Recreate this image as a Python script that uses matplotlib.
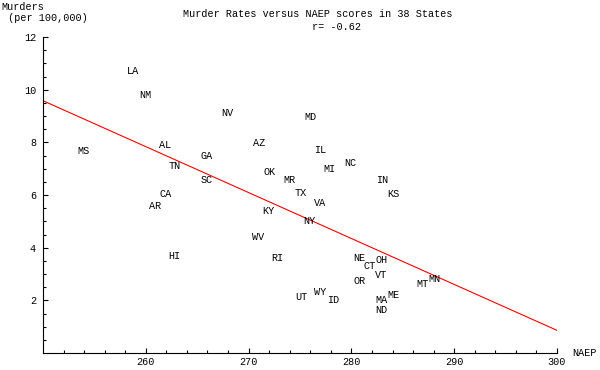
import numpy as np
import matplotlib.pyplot as plt

states = ["LA", "NM", "NV", "MD", "MS", "AL", "AZ", "IL", "GA", "NC",
          "TN", "OK", "MI", "SC", "MR", "IN", "TX", "KS", "CA", "VA",
          "AR", "KY", "NY", "WV", "HI", "RI", "NE", "OH", "CT", "VT",
          "MN", "MT", "OR", "ME", "WY", "UT", "MA", "ID", "ND"]
naep = [258.8, 260.0, 267.9, 276.0, 253.9, 261.9, 271.0, 277.0, 265.9, 279.9,
        262.8, 272.0, 277.9, 265.9, 274.0, 283.0, 275.1, 284.1, 261.9, 277.0,
        260.9, 271.9, 275.9, 270.9, 262.8, 272.8, 280.8, 282.9, 281.8, 282.9,
        288.1, 286.9, 280.8, 284.1, 277.0, 275.1, 282.9, 278.2, 282.9]
murders = [10.71, 9.80, 9.12, 8.97, 7.68, 7.91, 7.98, 7.72, 7.49, 7.23,
           7.11, 6.89, 7.00, 6.58, 6.58, 6.58, 6.09, 6.02, 6.02, 5.71,
           5.60, 5.41, 5.00, 4.39, 3.70, 3.59, 3.59, 3.52, 3.29, 2.95,
           2.80, 2.61, 2.72, 2.19, 2.30, 2.11, 2.00, 2.00, 1.62]

# fitted line end points
fit_x = [250, 300]
fit_y = [9.58, 0.86]

font = "Liberation Mono"
fs = 7.3

fig = plt.figure(figsize=(6, 3.7), dpi=100)
ax = fig.add_axes([43/600, 17/370, 514/600, 316/370])

for s, x, y in zip(states, naep, murders):
    ax.text(x, y, s, ha="center", va="center", fontsize=fs, family=font)

ax.plot(fit_x, fit_y, color="red", lw=0.8)

ax.set_xlim(250, 300)
ax.set_ylim(0, 12)
ax.set_xticks([260, 270, 280, 290, 300])
ax.set_xticks(np.arange(252, 300, 2), minor=True)
ax.set_yticks([2, 4, 6, 8, 10, 12])
ax.set_yticks(np.arange(0.5, 12, 0.5), minor=True)
ax.spines["top"].set_visible(False)
ax.spines["right"].set_visible(False)
ax.spines["left"].set_linewidth(0.8)
ax.spines["bottom"].set_linewidth(0.8)
ax.tick_params(which="both", direction="in", width=0.8)
ax.tick_params(which="major", length=3.5, labelsize=fs)
ax.tick_params(axis="x", which="major", pad=3)
ax.tick_params(axis="y", which="major", pad=5)
ax.tick_params(which="minor", length=2)
for lab in ax.get_xticklabels() + ax.get_yticklabels():
    lab.set_family(font)

fig.text(318/600, 0.975, "Murder Rates versus NAEP scores in 38 States",
         ha="center", va="top", fontsize=fs, family=font)
fig.text(312/600, 0.94, "r= -0.62", ha="left", va="top",
         fontsize=fs, family=font)
fig.text(0.003, 0.995, "Murders\n (per 100,000)", ha="left", va="top",
         fontsize=fs, family=font, linespacing=1.1)
fig.text(572/600, 17/370, "NAEP", ha="left", va="center",
         fontsize=fs, family=font)

fig.savefig("out.png", dpi=100)
